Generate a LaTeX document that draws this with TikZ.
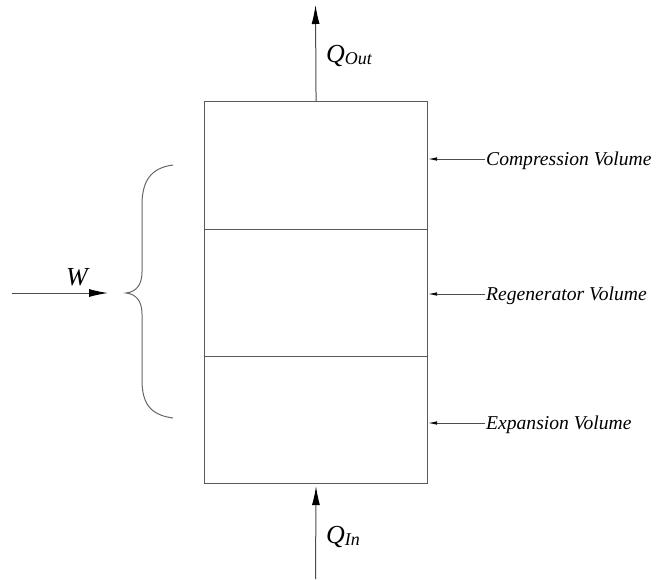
\documentclass[tikz,border=0pt]{standalone}
\usepackage{fontspec}
\setmainfont{Liberation Serif}
\usetikzlibrary{arrows.meta}
\begin{document}
\begin{tikzpicture}[x=1pt,y=-1pt,
  wall/.style={draw=black!65, line width=1.1pt},
  cell/.style={rectangle, wall, minimum width=223pt, inner sep=0pt, anchor=north west},
  flow/.style={draw=black!70, line width=1pt, -{Latex[length=19pt,width=8pt,color=black]}},
  pointer/.style={draw=black!70, line width=0.8pt, -{Latex[length=9pt,width=3.5pt,color=black]}},
  vollabel/.style={anchor=base west, inner sep=0pt, font=\fontsize{19.6}{22}\selectfont\itshape},
  biglabel/.style={anchor=base west, inner sep=0pt, font=\fontsize{26}{28}\selectfont\itshape},
  bracestyle/.style={draw=black!60, line width=1pt}]
\useasboundingbox (0,0) rectangle (661,579);

% stacked volumes of the engine
\node[cell, minimum height=128pt] (comp) at (204,101) {};
\node[cell, minimum height=127pt] (regen) at (204,229) {};
\node[cell, minimum height=127pt] (expn) at (204,356) {};

% heat flows
\coordinate (qtop) at (315.5,5);
\coordinate (qbot) at (315.5,579);
\draw[flow] (comp.north) -- (qtop);
\draw[flow, shorten >=2pt] (qbot) -- (expn.south);
\node[biglabel] (qout) at (326,62) {Q\raisebox{-2pt}{\fontsize{18}{20}\selectfont Out}};
\node[biglabel] (qin) at (326,543) {Q\raisebox{-2pt}{\fontsize{18}{20}\selectfont In}};

% volume labels
\node[vollabel] (lc) at (486,165) {Compression Volume};
\node[vollabel] (lr) at (486,300) {Regenerator Volume};
\node[vollabel] (le) at (486,429) {Expansion Volume};
\coordinate (pc) at (485,159);
\coordinate (pr) at (485,294);
\coordinate (pe) at (485,423);
\draw[pointer] (pc) -- (pc -| comp.east);
\draw[pointer] (pr) -- (pr -| regen.east);
\draw[pointer] (pe) -- (pe -| expn.east);

% work input and brace
\coordinate (wstart) at (12,293);
\coordinate (btip) at (126,293);
\draw[flow, shorten >=18pt] (wstart) -- (btip);
\node[biglabel] (w) at (66,285) {W};
\draw[bracestyle] (173,165) .. controls (150,168) and (142,182) .. (142,205)
  -- (142,272) .. controls (142,285) and (136,292) .. (btip)
  .. controls (136,294) and (142,301) .. (142,314)
  -- (142,380) .. controls (142,403) and (150,415) .. (173,418);
\end{tikzpicture}
\end{document}
